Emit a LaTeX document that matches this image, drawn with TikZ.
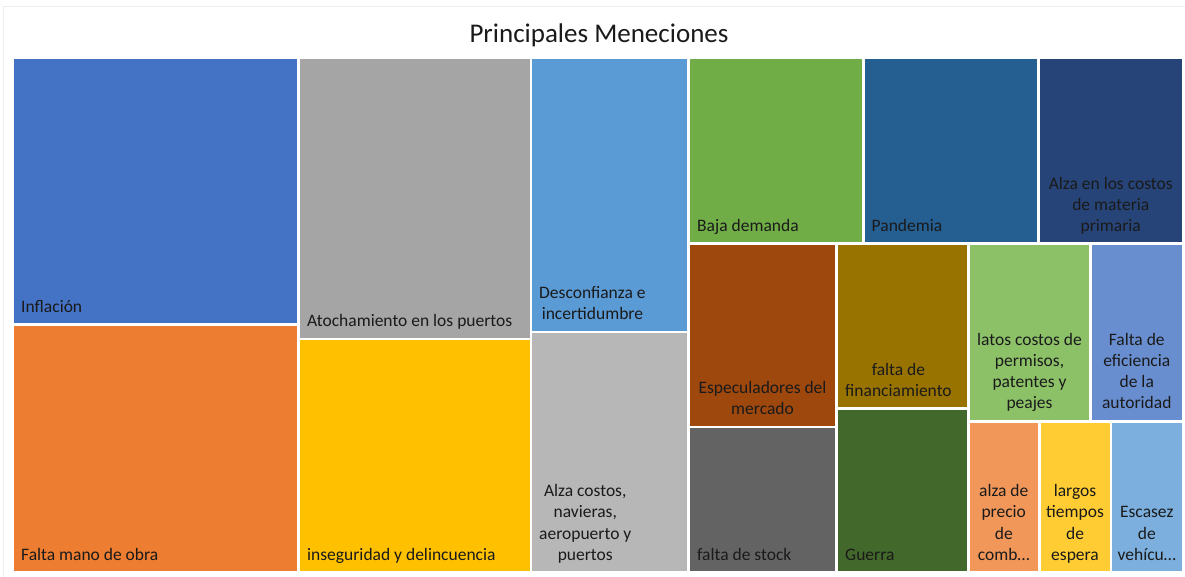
\documentclass[tikz,border=0pt]{standalone}
\usepackage{fontspec}
\setmainfont{Carlito}
\definecolor{cInfl}{HTML}{4472C4}
\definecolor{cMano}{HTML}{ED7D31}
\definecolor{cAtoch}{HTML}{A5A5A5}
\definecolor{cInseg}{HTML}{FFC000}
\definecolor{cDesc}{HTML}{5B9BD5}
\definecolor{cNav}{HTML}{B7B7B7}
\definecolor{cBaja}{HTML}{70AD47}
\definecolor{cPand}{HTML}{255E91}
\definecolor{cMat}{HTML}{264478}
\definecolor{cEspec}{HTML}{9E480E}
\definecolor{cStock}{HTML}{636363}
\definecolor{cFin}{HTML}{997300}
\definecolor{cGuerra}{HTML}{43682B}
\definecolor{cLatos}{HTML}{8CC168}
\definecolor{cEfic}{HTML}{698ED0}
\definecolor{cComb}{HTML}{F1975A}
\definecolor{cLargos}{HTML}{FFCD33}
\definecolor{cEscas}{HTML}{7CAFDD}
\definecolor{txt}{HTML}{1A1A1A}
\definecolor{frame}{HTML}{EEEEEE}
\newcommand\tmcellL[7]{%
  \fill[#2] (#3,#4) rectangle (#5,#6);
  \node[lbl, anchor=south west] (#1) at (#3+7,#6-4.2) {#7\strut};}
\newcommand\tmcellC[7]{%
  \fill[#2] (#3,#4) rectangle (#5,#6);
  \node[lbl, anchor=south] (#1) at ({(#3+#5)/2},#6-4.2) {#7\strut};}
\begin{document}
\begin{tikzpicture}[x=1pt,y=-1pt,
  lbl/.style={inner sep=0pt, align=center, text=txt, font=\fontsize{17.5}{21.2}\selectfont},
  title/.style={inner sep=0pt, text=txt, font=\fontsize{27}{32}\selectfont}]
\useasboundingbox (0,0) rectangle (1185,577);
\fill[white] (0,0) rectangle (1185,577);
\draw[frame, line width=0.8pt] (3.5,6.5) rectangle (1195,590);
\node[title, anchor=base] (title) at (599,42.5) {Principales Meneciones};
\tmcellL{inflacion}{cInfl}{14}{58.7}{297}{323.3}{Inflación}
\tmcellL{mano}{cMano}{14}{326}{297}{571}{Falta mano de obra}
\tmcellL{atoch}{cAtoch}{300}{58.7}{529.5}{337.5}{Atochamiento en los puertos}
\tmcellL{inseg}{cInseg}{300}{340}{529.5}{571}{inseguridad y delincuencia}
\tmcellL{desc}{cDesc}{532}{58.7}{687}{330.5}{Desconfianza e\\incertidumbre}
\tmcellL{nav}{cNav}{532}{333.3}{687}{571}{Alza costos,\\navieras,\\aeropuerto y\\puertos}
\tmcellL{baja}{cBaja}{690}{58.7}{861.5}{242.5}{Baja demanda}
\tmcellL{pand}{cPand}{864.5}{58.7}{1036.7}{242.5}{Pandemia}
\tmcellC{mat}{cMat}{1039.5}{58.7}{1182}{242.5}{Alza en los costos\\de materia\\primaria}
\tmcellC{espec}{cEspec}{690}{245}{835}{425.5}{Especuladores del\\mercado}
\tmcellL{stock}{cStock}{690}{428}{835}{571}{falta de stock}
\tmcellL{fin}{cFin}{838}{245}{967}{407}{falta de\\financiamiento}
\tmcellL{guerra}{cGuerra}{838}{409.5}{967}{571}{Guerra}
\tmcellC{latos}{cLatos}{970}{245}{1089}{419.5}{latos costos de\\permisos,\\patentes y\\peajes}
\tmcellC{efic}{cEfic}{1092}{245}{1181.5}{419.5}{Falta de\\eficiencia\\de la\\autoridad}
\tmcellC{comb}{cComb}{970}{422.5}{1037.5}{571}{alza de\\precio\\de\\comb…}
\tmcellC{largos}{cLargos}{1040.5}{422.5}{1109.5}{571}{largos\\tiempos\\de\\espera}
\tmcellC{escas}{cEscas}{1112}{422.5}{1181.5}{571}{Escasez\\de\\vehícu…}
\end{tikzpicture}
\end{document}
